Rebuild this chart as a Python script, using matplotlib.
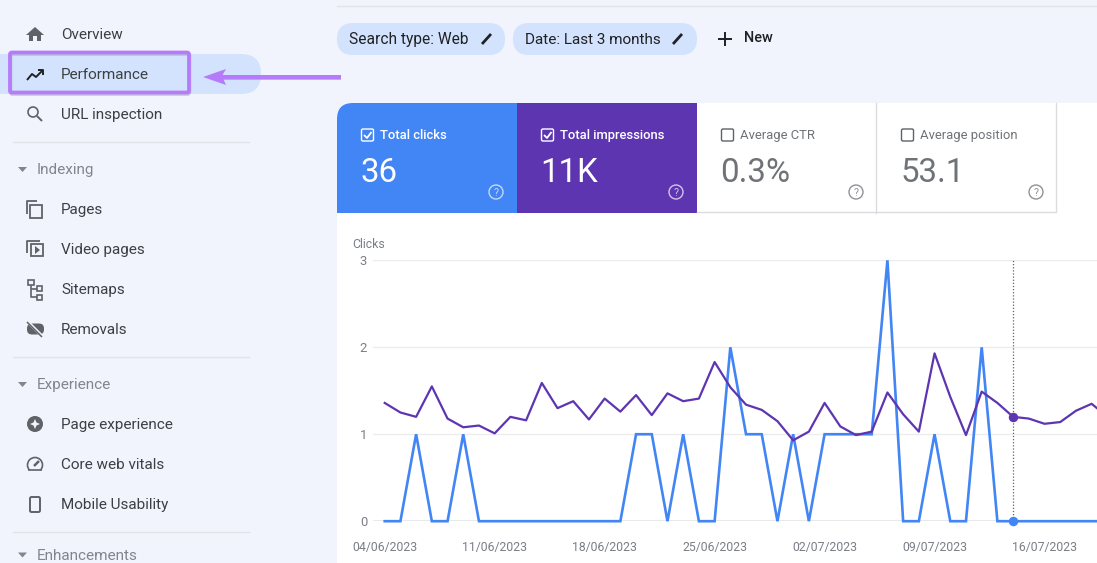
import matplotlib
matplotlib.use("Agg")
import matplotlib.pyplot as plt
from matplotlib.patches import Rectangle, FancyBboxPatch, Circle, Polygon

plt.rcParams["font.family"] = ["Roboto", "DejaVu Sans"]

# daily values
clicks = [0, 0, 1, 0, 0, 1, 0, 0, 0, 0, 0, 0, 0, 0, 0, 0, 1, 1, 0, 1, 0, 0, 2, 1,
          1, 0, 1, 0, 1, 1, 1, 1, 3, 0, 0, 1, 0, 0, 2, 0, 0, 0, 0, 0, 0, 0, 0]
impressions = [1.36, 1.25, 1.20, 1.55, 1.18, 1.08, 1.10, 1.01, 1.20, 1.16, 1.59, 1.30,
               1.38, 1.17, 1.41, 1.26, 1.45, 1.22, 1.47, 1.38, 1.41, 1.83, 1.54, 1.34,
               1.28, 1.15, 0.93, 1.03, 1.36, 1.09, 0.99, 1.03, 1.48, 1.23, 1.03, 1.93,
               1.43, 0.99, 1.49, 1.36, 1.20, 1.18, 1.12, 1.14, 1.27, 1.35, 1.20]
date_labels = ["04/06/2023", "11/06/2023", "18/06/2023", "25/06/2023",
               "02/07/2023", "09/07/2023", "16/07/2023"]
hover_day = 40

top_nav = ["Overview", "Performance", "URL inspection"]
indexing_nav = ["Pages", "Video pages", "Sitemaps", "Removals"]
experience_nav = ["Page experience", "Core web vitals", "Mobile Usability"]
section_names = ["Indexing", "Experience", "Enhancements"]
card_titles = ["Total clicks", "Total impressions", "Average CTR", "Average position"]
card_values = ["36", "11K", "0.3%", "53.1"]

BG = "#f1f4fd"
CHIP = "#d3e3fd"
BLUE = "#4285f4"
PURPLE = "#5e35b1"
LILAC = "#b57bfb"
ICON = "#5f6368"
TEXT = "#3c4043"
GREY = "#7a7f85"
RULE = "#e1e3e6"


def px(size):
    return size * 0.72


fig = plt.figure(figsize=(10.97, 5.63), dpi=100, facecolor=BG)
ui = fig.add_axes([0, 0, 1, 1])
ui.set_xlim(0, 1097)
ui.set_ylim(563, 0)
ui.axis("off")


def label(x, y, s, size=15.3, color=TEXT, **kw):
    kw.setdefault("va", "center")
    ui.text(x, y, s, fontsize=px(size), color=color, **kw)


def rbox(x, y, w, h, r, **kw):
    p = FancyBboxPatch((x, y), w, h, boxstyle=f"round,pad=0,rounding_size={r}", **kw)
    ui.add_patch(p)
    return p


def stroke(xs, ys, color=ICON, lw=1.4, **kw):
    ui.plot(xs, ys, color=color, lw=lw, solid_capstyle="butt", **kw)


# main panel
ui.plot([337, 1097], [6, 6], color="#e2e4e8", lw=1)
rbox(337, 103, 800, 480, 16, fc="white", ec="none")

# sidebar
rbox(-30, 54, 291, 40, 20, fc=CHIP, ec="none")
for y, s in zip([35, 75, 115], top_nav):
    label(61, y, s)
for y, s in zip([210, 250, 290, 330], indexing_nav):
    label(61, y, s)
for y, s in zip([425, 465, 505], experience_nav):
    label(61, y, s)
# the last heading sits at the picture's bottom edge, kept just inside it
for y, s in zip([170, 385, 555.5], section_names):
    label(37, y, s, color="#80868b")
    ui.add_patch(Polygon([[18, y - 3], [27, y - 3], [22.5, y + 2]], fc="#80868b", ec="none"))
for y in [142, 357, 532]:
    ui.plot([13, 249], [y, y], color=RULE, lw=1)

# sidebar icons
ui.add_patch(Polygon([[35, 27], [44, 35], [41, 35], [41, 41], [37, 41], [37, 36], [33, 36],
                      [33, 41], [29, 41], [29, 35], [26, 35]], fc=ICON, ec="none"))
stroke([27, 32, 36, 43], [80, 74, 77, 70], color="#202124", lw=1.4)
stroke([38, 43, 43], [70, 70, 75], color="#202124", lw=1.4)
ui.add_patch(Circle((33, 112), 5, fc="none", ec=ICON, lw=1.2))
stroke([37, 42], [116, 121], lw=1.4)
ui.add_patch(Rectangle((30, 205), 12, 13, fc="none", ec=ICON, lw=1.3))
stroke([27, 27, 37], [214, 200.5, 200.5], lw=1.3)
ui.add_patch(Rectangle((31, 244), 12, 12, fc="none", ec=ICON, lw=1.3))
stroke([27, 27, 40], [253, 241, 241], lw=1.3)
ui.add_patch(Polygon([[35, 246], [40, 250], [35, 254]], fc=ICON, ec="none"))
for x, y, w, h in [(28, 280, 6, 5), (37, 286, 5, 5), (37, 295, 5, 5)]:
    ui.add_patch(Rectangle((x, y), w, h, fc="none", ec=ICON, lw=1.2))
stroke([31, 31, 37], [285, 297, 297], lw=1.2)
stroke([31, 37], [289, 289], lw=1.2)
ui.add_patch(FancyBboxPatch((27, 323.5), 17, 11, boxstyle="round,pad=0,rounding_size=5", fc=ICON, ec="none"))
stroke([28, 43], [322, 337], color=BG, lw=2.2)
stroke([27, 42], [322, 337], lw=1.1)
ui.add_patch(Circle((35, 424), 8, fc=ICON, ec="none"))
ui.add_patch(Polygon([[35, 419], [36.5, 422.5], [40, 424], [36.5, 425.5], [35, 429],
                      [33.5, 425.5], [30, 424], [33.5, 422.5]], fc=BG, ec="none"))
ui.add_patch(Circle((35, 465), 7.5, fc="none", ec=ICON, lw=1.2))
ui.add_patch(Rectangle((26, 470), 18, 6, fc=BG, ec="none"))
stroke([28, 42], [470, 470], lw=1.2)
stroke([34, 39], [466, 461], lw=1.8)
rbox(30, 497, 10, 15, 1.5, fc="none", ec=ICON, lw=1.4)

# highlight box and arrow
rbox(10.5, 54, 179, 40, 2, fc="none", ec="#a9a9b5", lw=2.6, alpha=0.6)
rbox(10, 52.5, 179, 40, 2, fc="none", ec=LILAC, lw=2.7)
ui.add_patch(Rectangle((222, 76), 119, 3.5, fc="#a0a0a8", ec="none", alpha=0.7))
ui.add_patch(Rectangle((222, 75), 119, 3.5, fc=LILAC, ec="none"))
ui.add_patch(Polygon([[203, 77], [226, 69], [222, 76], [226, 85]], fc=LILAC, ec="none"))

# filter chips
rbox(337, 23, 168, 32, 16, fc=CHIP, ec="none")
rbox(513, 23, 184, 32, 16, fc=CHIP, ec="none")
label(349, 39.5, "Search type: Web", size=15.5, color="#202124")
label(525, 39.5, "Date: Last 3 months", size=15.3, color="#202124")
for x in [487, 678]:
    stroke([x - 5, x + 4], [44, 34], color="#202124", lw=2)
stroke([724.5, 724.5], [32, 46], color="#202124", lw=1.4)
stroke([717.5, 731.5], [39, 39], color="#202124", lw=1.4)
label(744, 38.5, "New", size=14.5, color="#202124", fontweight="medium")

# metric cards
card_x = [337, 517, 697, 877]
clip = Rectangle((337, 103), 180, 110, transform=ui.transData)
blue_card = rbox(337, 103, 240, 150, 16, fc=BLUE, ec="none")
blue_card.set_clip_path(clip)
ui.add_patch(Rectangle((517, 103), 180, 110, fc=PURPLE, ec="none"))
ui.plot([697, 1056, 1056], [212, 212, 103], color="#dadce0", lw=1)
ui.plot([876, 876], [103, 213], color="#dadce0", lw=1)
for i, x in enumerate(card_x):
    on = i < 2
    fg = "white" if on else "#6f7377"
    rbox(x + 24.5, 129, 12, 12, 1.5, fc="none", ec="white" if on else "#5f6368", lw=1)
    if on:
        stroke([x + 27, x + 30, x + 34.5], [135, 138, 132], color="white", lw=1.3)
    label(x + 43, 135.5, card_titles[i], size=13, color=fg, fontweight="medium" if on else "normal")
    label(x + 23.5, 172.5, card_values[i], size=33, color=fg)
    hc = "#c4d9fb" if i == 0 else ("#d0c4e8" if i == 1 else "#8f9296")
    ui.add_patch(Circle((x + 159, 192), 7, fc="none", ec=hc, lw=1))
    label(x + 159, 192.5, "?", size=10.5, color=hc, ha="center")

# chart, axes placed on the pixel grid of the picture
left, right, y_top, y_zero = 373, 1097, 260.3, 521.2
ax = fig.add_axes([left / 1097, 1 - y_zero / 563, (right - left) / 1097, (y_zero - y_top) / 563])
ax.patch.set_alpha(0)
days = list(range(len(clicks)))
ax.set_xlim(-0.745, 45.34)
ax.set_ylim(0, 3)
for sp in ax.spines.values():
    sp.set_visible(False)
ax.set_yticks([0, 1, 2, 3])
ax.set_xticks(days[::7])
ax.set_xticklabels(date_labels)
ax.tick_params(length=0, labelsize=px(12.2), labelcolor=GREY)
ax.tick_params(axis="x", pad=14.5)
ax.tick_params(axis="y", pad=4.3, labelsize=px(13))
ax.grid(axis="y", color="#ececec", lw=1)
ax.set_axisbelow(True)
ax.axhline(0, color="#9aa0a6", lw=1, zorder=1)
ax.plot(days, clicks, color=BLUE, lw=1.9, solid_joinstyle="miter", clip_on=False, zorder=3)
ax.plot(days, impressions, color=PURPLE, lw=1.6, clip_on=False, zorder=4)
ax.axvline(hover_day, color="#5f6368", lw=0.9, ls=(0, (1, 1.5)), zorder=2)
ax.plot([hover_day], [clicks[hover_day]], "o", color=BLUE, ms=5.8, clip_on=False, zorder=5)
ax.plot([hover_day], [impressions[hover_day]], "o", color=PURPLE, ms=5.8, clip_on=False, zorder=5)
label(352.5, 244, "Clicks", size=12.2, color=GREY)

fig.savefig("out.png", dpi=100, facecolor=BG)
